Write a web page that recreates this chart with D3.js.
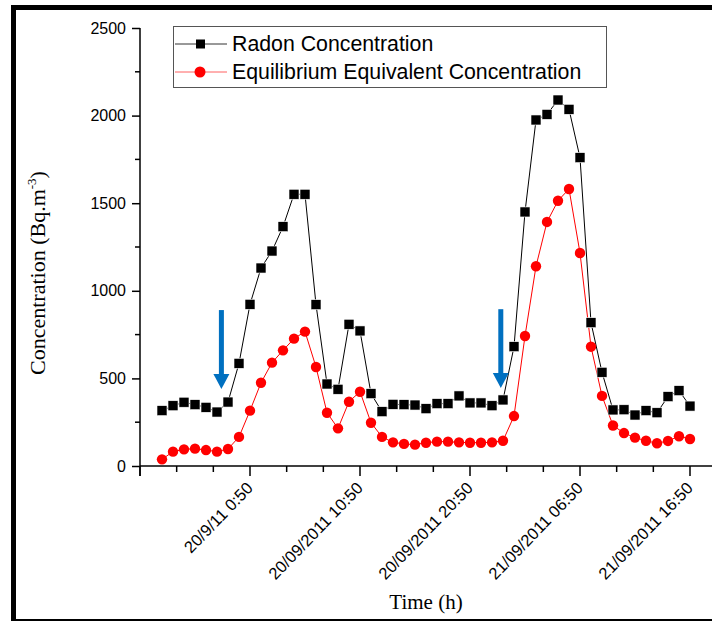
<!DOCTYPE html>
<html>
<head>
<meta charset="utf-8">
<script src="https://cdn.jsdelivr.net/npm/d3@7"></script>
<style>
  html, body { margin: 0; padding: 0; background: #fff; }
  svg { display: block; }
</style>
</head>
<body>
<svg id="chart" width="712" height="623"></svg>
<script>
// Hourly readings, hours relative to 20/09/2011 00:50
const hours = [-8, -7, -6, -5, -4, -3, -2, -1, 0, 1, 2, 3, 4, 5, 6, 7, 8, 9, 10, 11,
  12, 13, 14, 15, 16, 17, 18, 19, 20, 21, 22, 23, 24, 25, 26, 27, 28, 29, 30, 31,
  32, 33, 34, 35, 36, 37, 38, 39, 40];

// Radon concentration (Bq.m-3)
const radon = [316, 344, 364, 350, 335, 308, 365, 586, 923, 1130, 1227, 1366, 1551, 1551,
  921, 468, 438, 809, 771, 413, 310, 352, 350, 348, 327, 356, 356, 400, 360, 360, 344,
  377, 681, 1450, 1975, 2007, 2089, 2036, 1760, 818, 535, 320, 321, 291, 316, 304, 396,
  430, 342];

// Equilibrium equivalent concentration (Bq.m-3)
const eec = [38, 82, 95, 99, 91, 82, 97, 166, 316, 475, 590, 660, 727, 767, 565, 304, 215,
  367, 424, 247, 166, 135, 126, 122, 133, 139, 139, 135, 133, 133, 135, 144, 285, 742,
  1140, 1393, 1514, 1581, 1216, 681, 400, 231, 188, 162, 144, 130, 143, 170, 154];

const seriesNames = ["Radon Concentration", "Equilibrium Equivalent Concentration"];

// Labelled time ticks
const xTickHours = [0, 10, 20, 30, 40];
const xTickLabels = ["20/9/11 0:50", "20/09/2011 10:50", "20/09/2011 20:50",
  "21/09/2011 06:50", "21/09/2011 16:50"];
const yTickValues = [0, 500, 1000, 1500, 2000, 2500];

// Downward arrows marking the start of each build-up (hour, top value, tip value)
const arrowHours = [-2.6, 22.8];
const arrowTop = [890, 895];
const arrowTip = [440, 445];

const svg = d3.select("#chart");

const x = d3.scaleLinear().domain([-10, 40]).range([140, 690]);
const y = d3.scaleLinear().domain([0, 2500]).range([466, 28]);

// Frame
svg.append("rect").attr("x", 11).attr("y", 5).attr("width", 701).attr("height", 5).attr("fill", "#000");
svg.append("rect").attr("x", 11).attr("y", 5).attr("width", 5).attr("height", 616).attr("fill", "#000");
svg.append("rect").attr("x", 11).attr("y", 619).attr("width", 701).attr("height", 2).attr("fill", "#000");

// Y axis
const yAxis = d3.axisLeft(y).tickValues(yTickValues).tickSize(8).tickPadding(6).tickFormat(d3.format("d"));
const gy = svg.append("g").attr("transform", "translate(140,0)").call(yAxis);
gy.select(".domain").remove();
gy.append("line").attr("x1", 0).attr("x2", 0).attr("y1", y(2500)).attr("y2", y(0) + 10)
  .attr("stroke", "#000").attr("stroke-width", 1.5);
gy.selectAll(".tick line").attr("stroke-width", 1.5);
gy.selectAll(".tick text").attr("font-family", "Liberation Sans, Arial, sans-serif")
  .attr("font-size", 16).attr("fill", "#000");
gy.selectAll(".minor").data(d3.range(250, 2500, 500)).enter().append("line")
  .attr("x1", -5).attr("x2", 0).attr("y1", d => y(d)).attr("y2", d => y(d))
  .attr("stroke", "#000").attr("stroke-width", 1.5);

// X axis
const gx = svg.append("g").attr("transform", "translate(0,466)");
gx.append("line").attr("x1", 140).attr("x2", 712).attr("y1", 0).attr("y2", 0)
  .attr("stroke", "#000").attr("stroke-width", 1.5);
const minorHours = d3.range(-10, 40.01, 10 / 3);
gx.selectAll(".xminor").data(minorHours).enter().append("line")
  .attr("x1", d => x(d)).attr("x2", d => x(d)).attr("y1", 0)
  .attr("y2", d => (Math.abs(Math.round(d) - d) < 1e-6 && Math.round(d) % 10 === 0) ? 10 : 6)
  .attr("stroke", "#000").attr("stroke-width", 1.5);
gx.selectAll(".xlabel").data(xTickHours).enter().append("text")
  .attr("transform", d => `translate(${x(d) + 4},${23}) rotate(-46)`)
  .attr("text-anchor", "end")
  .attr("font-family", "Liberation Sans, Arial, sans-serif")
  .attr("font-size", 16.5)
  .attr("fill", "#000")
  .text((d, i) => xTickLabels[i]);

// Axis titles
svg.append("text").attr("x", 426).attr("y", 609).attr("text-anchor", "middle")
  .attr("font-family", "Liberation Serif, Times New Roman, serif").attr("font-size", 21)
  .text("Time (h)");
const yt = svg.append("text").attr("transform", "translate(45,273) rotate(-90)")
  .attr("text-anchor", "middle")
  .attr("font-family", "Liberation Serif, Times New Roman, serif").attr("font-size", 22);
yt.append("tspan").text("Concentration (Bq.m");
yt.append("tspan").attr("font-size", 13).attr("dy", -9).text("-3");
yt.append("tspan").attr("dy", 9).text(")");

// Lines
const lineGen = vals => d3.line().x((d, i) => x(hours[i])).y(d => y(d))(vals);
svg.append("path").attr("d", lineGen(radon)).attr("fill", "none").attr("stroke", "#000").attr("stroke-width", 1);
svg.append("path").attr("d", lineGen(eec)).attr("fill", "none").attr("stroke", "#ff0000").attr("stroke-width", 1);

// Markers
svg.selectAll(".sq").data(radon).enter().append("rect")
  .attr("x", (d, i) => x(hours[i]) - 5).attr("y", d => y(d) - 5)
  .attr("width", 10).attr("height", 10).attr("fill", "#000")
  .attr("stroke", "#fff").attr("stroke-width", 0.6);
svg.selectAll(".ci").data(eec).enter().append("circle")
  .attr("cx", (d, i) => x(hours[i])).attr("cy", d => y(d)).attr("r", 5.2)
  .attr("fill", "#ff0000");

// Arrows
const arrowColor = "#0070c0";
arrowHours.forEach((h, i) => {
  const ax = x(h), y0 = y(arrowTop[i]), y1 = y(arrowTip[i]);
  svg.append("rect").attr("x", ax - 2.5).attr("y", y0).attr("width", 5).attr("height", y1 - y0 - 14)
    .attr("fill", arrowColor);
  svg.append("path").attr("d", `M${ax - 8},${y1 - 15} L${ax + 8},${y1 - 15} L${ax},${y1} Z`)
    .attr("fill", arrowColor);
});

// Legend
const lg = svg.append("g");
lg.append("rect").attr("x", 173.5).attr("y", 26.5).attr("width", 433).attr("height", 61)
  .attr("fill", "#fff").attr("stroke", "#555").attr("stroke-width", 1);
const rows = [44, 72];
rows.forEach((ry, i) => {
  lg.append("line").attr("x1", 175).attr("x2", 227).attr("y1", ry).attr("y2", ry)
    .attr("stroke", i === 0 ? "#333" : "#ff6060").attr("stroke-width", 1);
  if (i === 0) {
    lg.append("rect").attr("x", 196).attr("y", ry - 4.5).attr("width", 9).attr("height", 9).attr("fill", "#000");
  } else {
    lg.append("circle").attr("cx", 200).attr("cy", ry).attr("r", 5.5).attr("fill", "#ff0000");
  }
  lg.append("text").attr("x", 232).attr("y", ry + 7)
    .attr("font-family", "Liberation Sans, Arial, sans-serif").attr("font-size", 21.3)
    .attr("fill", "#000").text(seriesNames[i]);
});
</script>
</body>
</html>
